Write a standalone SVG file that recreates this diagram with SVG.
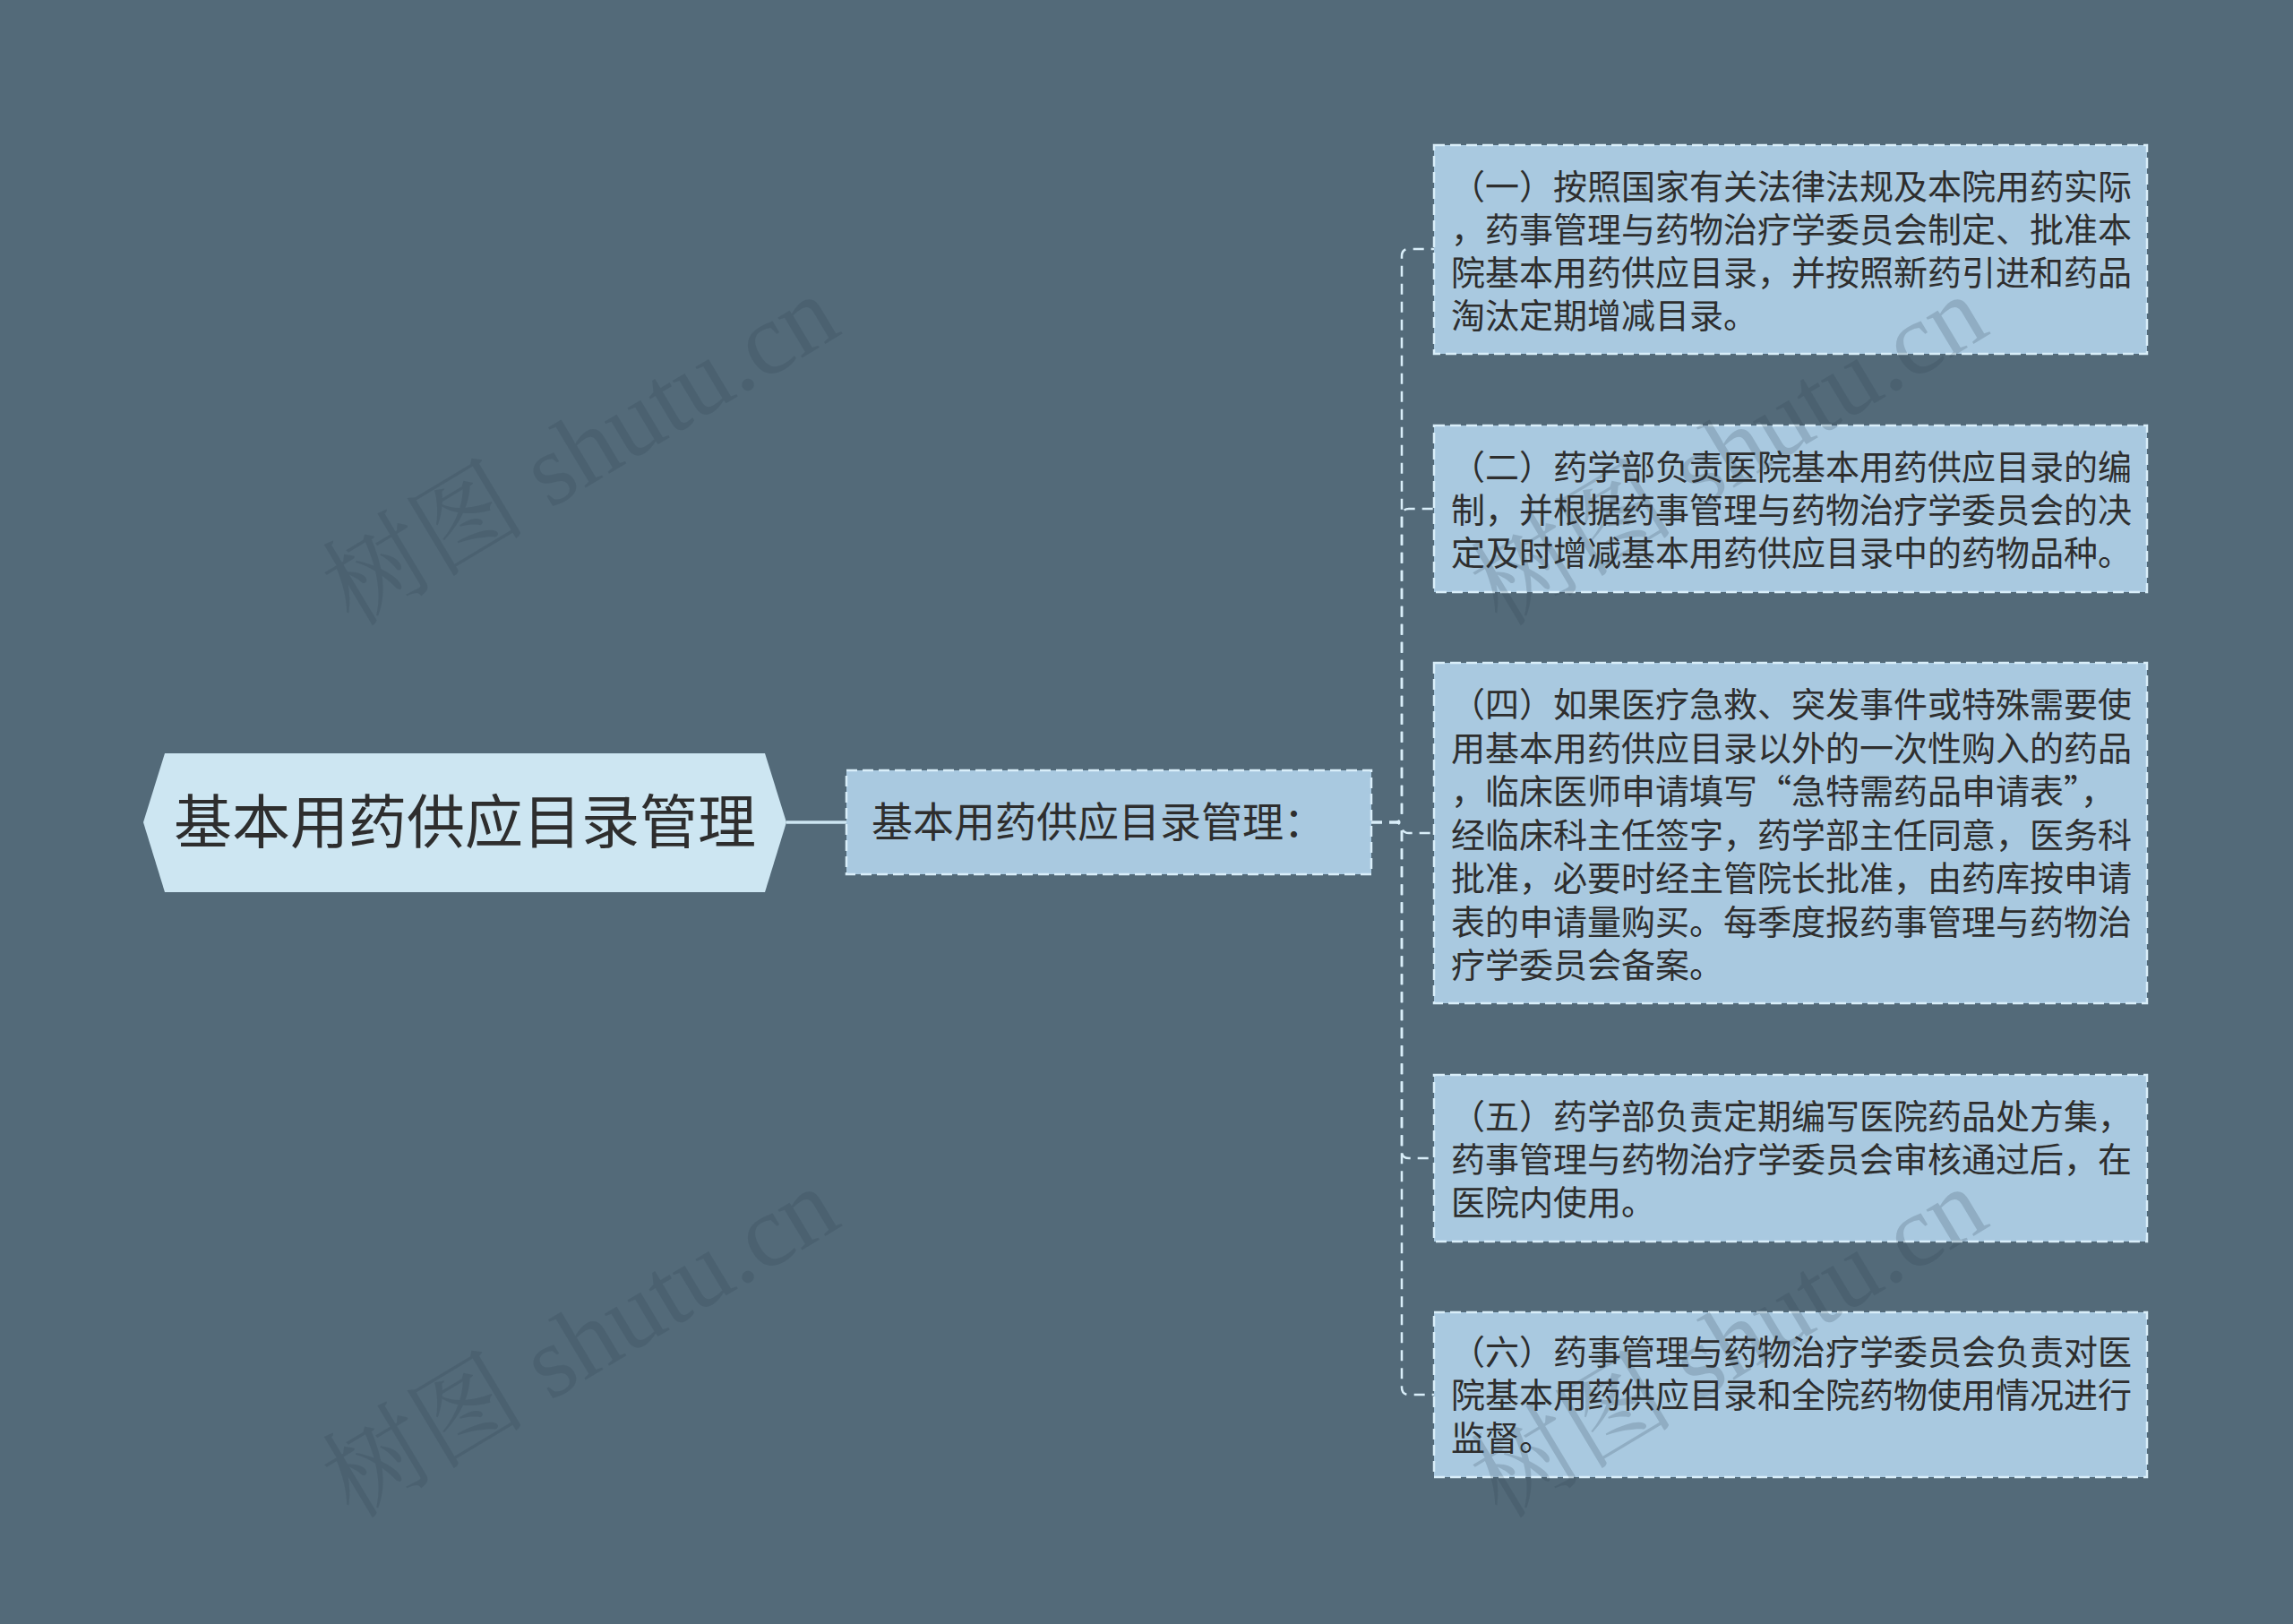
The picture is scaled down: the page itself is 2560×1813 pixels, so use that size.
<svg xmlns="http://www.w3.org/2000/svg" width="2560" height="1813" viewBox="0 0 2560 1813">
<style>
.cjk{font-family:"Noto Sans CJK SC","Noto Sans",sans-serif;fill:#2e2e2e}
.child{fill:#a9c9e0;stroke:#d9eef9;stroke-width:2.5;stroke-dasharray:12 6}
.conn{fill:none;stroke:#d9eef9;stroke-width:2.5;stroke-dasharray:12 8}
.t{font-size:38px}
.wm{font-family:"Liberation Serif","Noto Serif CJK SC","Noto Sans CJK SC",serif;font-size:114px;fill:#2f4250;fill-opacity:0.2}
</style>
<rect width="2560" height="1813" fill="#536a79"/>
<g id="connectors">
<line x1="878" y1="918" x2="945" y2="918" stroke="#cde6f2" stroke-width="3.5"/>
<path class="conn" d="M1531 918 H1557 Q1565 918 1565 910 V286 Q1565 278 1573 278 H1601"/>
<path class="conn" d="M1531 918 H1557 Q1565 918 1565 910 V576 Q1565 568 1573 568 H1601"/>
<path class="conn" d="M1531 918 H1557 Q1565 918 1565 922 Q1565 930 1573 930 H1601"/>
<path class="conn" d="M1531 918 H1557 Q1565 918 1565 926 V1285 Q1565 1293 1573 1293 H1601"/>
<path class="conn" d="M1531 918 H1557 Q1565 918 1565 926 V1549 Q1565 1557 1573 1557 H1601"/>
</g>
<g id="root">
<polygon points="160,918 184,841 854,841 878,918 854,996 184,996" fill="#cde6f2"/>
<text class="cjk" x="519" y="941" font-size="65" text-anchor="middle">基本用药供应目录管理</text>
</g>
<g id="sub">
<rect x="945" y="860" width="586" height="116" fill="#a9c9e0" stroke="#d9eef9" stroke-width="2.5" stroke-dasharray="12 6"/>
<text class="cjk" x="973" y="934" font-size="46">基本用药供应目录管理：</text>
</g>
<g id="c1">
<rect class="child" x="1601" y="162" width="796" height="233"/>
<text class="cjk t"><tspan x="1620" y="222">（一）按照国家有关法律法规及本院用药实际</tspan><tspan x="1620" y="270">，药事管理与药物治疗学委员会制定、批准本</tspan><tspan x="1620" y="318">院基本用药供应目录，并按照新药引进和药品</tspan><tspan x="1620" y="366">淘汰定期增减目录。</tspan></text>
</g>
<g id="c2">
<rect class="child" x="1601" y="475" width="796" height="186"/>
<text class="cjk t"><tspan x="1620" y="535">（二）药学部负责医院基本用药供应目录的编</tspan><tspan x="1620" y="583">制，并根据药事管理与药物治疗学委员会的决</tspan><tspan x="1620" y="631">定及时增减基本用药供应目录中的药物品种。</tspan></text>
</g>
<g id="c3">
<rect class="child" x="1601" y="740" width="796" height="380"/>
<text class="cjk t"><tspan x="1620" y="800">（四）如果医疗急救、突发事件或特殊需要使</tspan><tspan x="1620" y="849">用基本用药供应目录以外的一次性购入的药品</tspan><tspan x="1620" y="897">，临床医师申请填写“急特需药品申请表”，</tspan><tspan x="1620" y="946">经临床科主任签字，药学部主任同意，医务科</tspan><tspan x="1620" y="994">批准，必要时经主管院长批准，由药库按申请</tspan><tspan x="1620" y="1043">表的申请量购买。每季度报药事管理与药物治</tspan><tspan x="1620" y="1091">疗学委员会备案。</tspan></text>
</g>
<g id="c4">
<rect class="child" x="1601" y="1200" width="796" height="186"/>
<text class="cjk t"><tspan x="1620" y="1260">（五）药学部负责定期编写医院药品处方集，</tspan><tspan x="1620" y="1308">药事管理与药物治疗学委员会审核通过后，在</tspan><tspan x="1620" y="1356">医院内使用。</tspan></text>
</g>
<g id="c5">
<rect class="child" x="1601" y="1465" width="796" height="184"/>
<text class="cjk t"><tspan x="1620" y="1523">（六）药事管理与药物治疗学委员会负责对医</tspan><tspan x="1620" y="1571">院基本用药供应目录和全院药物使用情况进行</tspan><tspan x="1620" y="1619">监督。</tspan></text>
</g>
<g id="watermarks">
<text class="wm" text-anchor="middle" transform="translate(668,536) rotate(-31)">树图 shutu.cn</text>
<text class="wm" text-anchor="middle" transform="translate(1950,536) rotate(-31)">树图 shutu.cn</text>
<text class="wm" text-anchor="middle" transform="translate(668,1532) rotate(-31)">树图 shutu.cn</text>
<text class="wm" text-anchor="middle" transform="translate(1950,1532) rotate(-31)">树图 shutu.cn</text>
</g>
</svg>
